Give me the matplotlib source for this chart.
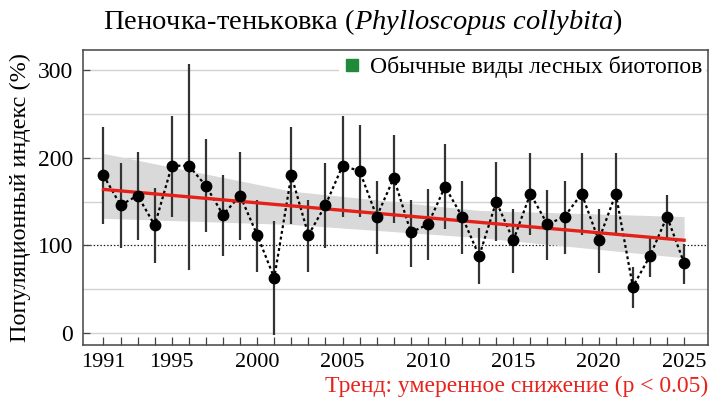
import matplotlib
matplotlib.use("Agg")
import matplotlib.pyplot as plt
from matplotlib.lines import Line2D
from matplotlib.font_manager import FontProperties

plt.rcParams['font.family'] = ['Liberation Serif', 'DejaVu Serif']
plt.rcParams['mathtext.fontset'] = 'custom'
plt.rcParams['mathtext.rm'] = 'Liberation Serif'
plt.rcParams['mathtext.it'] = 'Liberation Serif:italic'

years = list(range(1991, 2026))
index = [180, 146, 157, 123, 191, 191, 168, 135, 157, 112, 63, 180,
         112, 146, 191, 185, 133, 177, 115, 124, 167, 133, 88, 150,
         106, 159, 124, 133, 159, 106, 159, 53, 88, 133, 80]
err_hi = [235, 194, 207, 166, 248, 307, 221, 180, 207, 152, 128, 235,
          152, 194, 248, 237, 174, 226, 152, 164, 216, 174, 120, 195,
          142, 205, 163, 174, 205, 142, 205, 76, 111, 158, 102]
err_lo = [124, 97, 106, 80, 133, 72, 115, 88, 106, 70, -2, 124,
          70, 97, 133, 133, 90, 126, 76, 83, 119, 90, 56, 105,
          69, 112, 83, 90, 112, 69, 112, 29, 64, 106, 56]
trend_years = [1991, 2025]
trend_vals = [164, 106]
band_years = [1991, 2002, 2013, 2025]
band_upper = [205, 162, 140, 133]
band_lower = [131, 124, 109, 86]
xtick_labels = [1991, 1995, 2000, 2005, 2010, 2015, 2020, 2025]

serif = 'Liberation Serif'

fig = plt.figure(figsize=(7.10, 4.01), dpi=100)
ax = fig.add_axes([83/710, 1-345/401, 625/710, 295/401])

ax.set_xlim(1989.8, 2026.4)
ax.set_ylim(-13.5, 323)

for g in [0, 50, 150, 200, 250, 300]:
    ax.axhline(g, color='#d6d0d0', lw=1.0, zorder=0)
ax.axhline(100, color='#222222', lw=0.9, ls=(0, (1.2, 1.5)), zorder=1)

ax.fill_between(band_years, band_lower, band_upper, color='#d9d9d9', lw=0, zorder=1)

ax.vlines(years, err_lo, err_hi, color='#333333', lw=1.6, zorder=2)
ax.plot(years, index, color='black', lw=1.6, ls=(0, (1.3, 1.3)), zorder=3)
ax.plot(trend_years, trend_vals, color='#e32119', lw=2.4, zorder=4)
ax.plot(years, index, 'o', color='black', ms=7.5, zorder=5)

ax.set_xticks(years)
ax.set_xticklabels([str(y) if y in xtick_labels else '' for y in years],
                   family=serif)
ax.set_yticks([0, 100, 200, 300])
ax.set_yticklabels(['0', '100', '200', '300'], family=serif)
ax.tick_params(axis='x', direction='in', length=6, width=0.9, color='#444444',
               labelsize=16, pad=6)
ax.tick_params(axis='y', direction='in', length=5, width=0.9, color='#444444',
               labelsize=17, pad=7)
for s in ax.spines.values():
    s.set_color('#444444')
    s.set_linewidth(1.1)

ax.set_ylabel('Популяционный индекс (%)', fontsize=17.5, family=serif, labelpad=5)

handle = Line2D([], [], marker='s', color='#1f8a3a', ls='', ms=8)
leg = ax.legend([handle], ['Обычные виды лесных биотопов'], loc='upper right',
                prop=FontProperties(family=serif, size=17), frameon=True,
                framealpha=1, edgecolor='none', facecolor='white',
                handlelength=0.8, handletextpad=0.35,
                borderaxespad=0.1, borderpad=0.15)
leg.set_zorder(6)

fig.text(363/710, 1 - 22/401, r'Пеночка-теньковка ($\mathit{Phylloscopus\ collybita}$)',
         ha='center', va='center', fontsize=20.5, family=serif)
fig.text(708/710, 1 - 386/401, 'Тренд: умеренное снижение (p < 0.05)',
         ha='right', va='center', fontsize=17, color='#e8231c', family=serif)

fig.savefig('out.png', dpi=100)
